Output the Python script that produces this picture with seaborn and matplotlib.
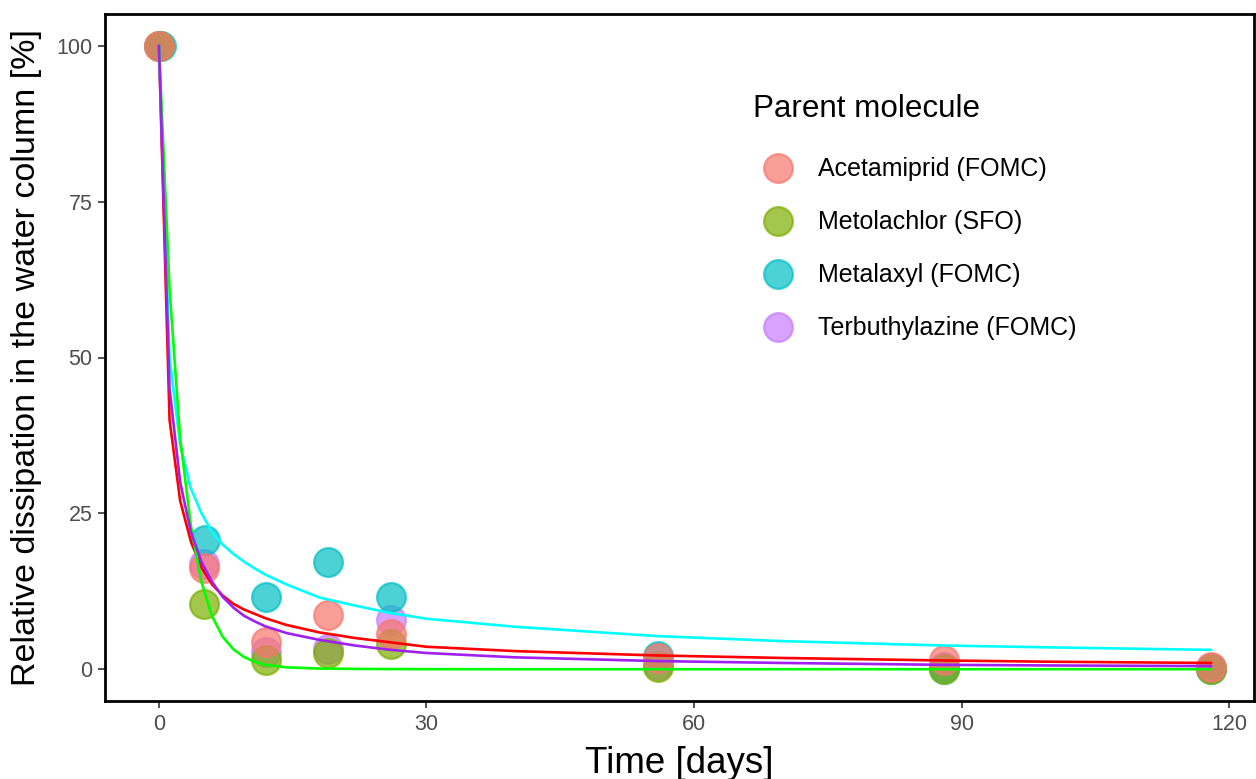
import numpy as np
import pandas as pd
import matplotlib
matplotlib.use("Agg")
import matplotlib.pyplot as plt
import seaborn as sns
from matplotlib.lines import Line2D

# Observed relative concentrations (% of initial) in the water column
days_acetamiprid = [0, 5, 12, 19, 26, 56, 88, 118]
acetamiprid = [100, 16.2, 4.4, 8.7, 5.6, 1.8, 1.4, 0.3]

days_metolachlor = [0, 5, 12, 19, 26, 56, 88, 118]
metolachlor = [100, 10.4, 1.4, 2.6, 4.1, 0.3, 0.1, 0.0]

days_metalaxyl = [0.2, 5.2, 12, 19, 26, 56, 88, 118]
metalaxyl = [100, 20.7, 11.6, 17.2, 11.6, 2.1, 0.1, 0.1]

days_terbuthylazine = [0, 5, 12, 19, 26, 56, 88, 118]
terbuthylazine = [100, 16.8, 2.8, 3.2, 7.9, 0.6, 0.4, 0.2]

# Fitted kinetic curves (FOMC / SFO), sampled along the time axis
curve_days = [0, 1.19, 2.38, 3.58, 4.77, 5.96, 7.15, 8.34, 9.5, 10.7, 11.9,
              14.3, 18, 22, 26, 30, 40, 56, 70, 88, 100, 118]
fit_acetamiprid = [100, 40, 27, 20.5, 16.3, 13.6, 11.8, 10.5, 9.6, 8.9, 8.2,
                   7.1, 5.9, 5.0, 4.3, 3.6, 2.9, 2.2, 1.8, 1.4, 1.2, 1.0]
fit_metolachlor = [100, 61, 37, 23, 14, 8.5, 5.2, 3.2, 2.0, 1.2, 0.7,
                   0.3, 0.1, 0.05, 0.02, 0.01, 0, 0, 0, 0, 0, 0]
fit_metalaxyl = [100, 50, 36, 29, 25, 22, 20, 18.5, 17.3, 16.2, 15.2,
                 13.6, 11.5, 10.2, 9.0, 8.1, 6.8, 5.3, 4.5, 3.8, 3.5, 3.1]
fit_terbuthylazine = [100, 45, 30, 22, 17.2, 14, 11.6, 9.9, 8.6, 7.7, 6.9,
                      5.8, 4.7, 3.8, 3.1, 2.6, 1.9, 1.3, 1.0, 0.7, 0.6, 0.5]

labels = ["Acetamiprid (FOMC)", "Metolachlor (SFO)",
          "Metalaxyl (FOMC)", "Terbuthylazine (FOMC)"]
point_colors = ["#F8766D", "#7CAE00", "#00BFC4", "#C77CFF"]
line_colors = ["#FF0000", "#00FF00", "#00FFFF", "#A020F0"]

all_days = [days_acetamiprid, days_metolachlor, days_metalaxyl, days_terbuthylazine]
all_vals = [acetamiprid, metolachlor, metalaxyl, terbuthylazine]
all_fits = [fit_acetamiprid, fit_metolachlor, fit_metalaxyl, fit_terbuthylazine]

sns.set_theme(style="white")
plt.rcParams["font.family"] = ["Liberation Sans", "DejaVu Sans"]
plt.rcParams["text.color"] = "black"

fig = plt.figure(figsize=(12.56, 7.79), dpi=100)
ax = fig.add_axes([105 / 1256, 1 - 701 / 779, 1149 / 1256, 687 / 779])

# points: terbuthylazine first, acetamiprid on top
for i in [3, 2, 1, 0]:
    df = pd.DataFrame({"day": all_days[i], "value": all_vals[i]})
    sns.scatterplot(data=df, x="day", y="value", color=point_colors[i],
                    edgecolor=point_colors[i], s=430, alpha=0.7,
                    linewidth=1.6, ax=ax, legend=False, zorder=2)

# fitted curves drawn over the points
for i in [0, 2, 1, 3]:
    df = pd.DataFrame({"day": curve_days, "value": all_fits[i]})
    sns.lineplot(data=df, x="day", y="value", color=line_colors[i],
                 linewidth=1.9, ax=ax, legend=False, zorder=3,
                 estimator=None, sort=False)

ax.set_xlim(-6.05, 122.8)
ax.set_ylim(-5.1, 105.1)
ax.set_xticks([0, 30, 60, 90, 120])
ax.set_yticks([0, 25, 50, 75, 100])
ax.tick_params(axis="both", which="major", direction="out", length=5,
               width=1.2, color="#333333", labelsize=15.5,
               labelcolor="#4D4D4D", bottom=True, left=True, pad=4)
for sp in ax.spines.values():
    sp.set_visible(True)
    sp.set_color("black")
    sp.set_linewidth(2.0)
ax.grid(False)
ax.set_xlabel("Time [days]", fontsize=26.5, labelpad=8, color="black")
ax.set_ylabel("Relative dissipation in the water column [%]", fontsize=24.5,
              labelpad=10, color="black")

handles = [Line2D([], [], linestyle="none", marker="o", markersize=20.7,
                  markerfacecolor=col, markeredgecolor=col,
                  markeredgewidth=1.6, alpha=0.7)
           for col in point_colors]
leg = ax.legend(handles, labels, title="Parent molecule", frameon=False,
                loc="upper left", bbox_to_anchor=(0.5637, 0.8836),
                fontsize=18, title_fontsize=22.6, labelspacing=1.16,
                handlelength=2.0, handletextpad=0.6, borderpad=0,
                borderaxespad=0, alignment="left")
leg._legend_box.sep = 24
for t in leg.get_texts():
    t.set_color("black")
leg.get_title().set_color("black")

fig.savefig("out.png", dpi=100)
